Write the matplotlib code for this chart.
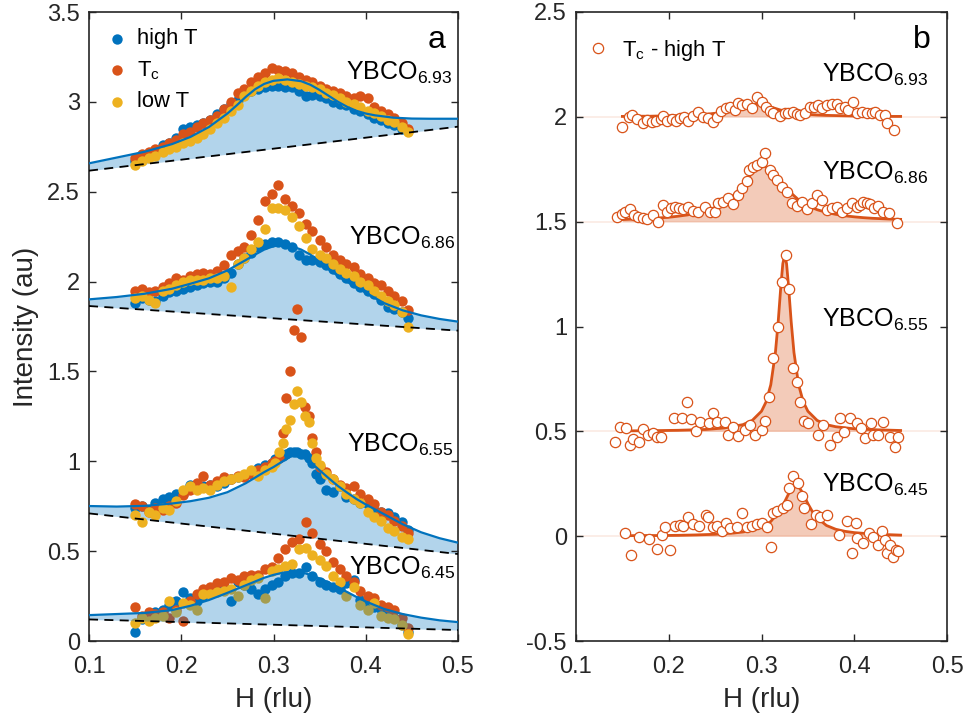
import numpy as np
import matplotlib
matplotlib.use('Agg')
import matplotlib.pyplot as plt

plt.rcParams['font.family'] = ['Liberation Sans', 'DejaVu Sans']
plt.rcParams['mathtext.fontset'] = 'custom'
plt.rcParams['mathtext.rm'] = 'Liberation Sans'
plt.rcParams['mathtext.it'] = 'Liberation Sans:italic'
plt.rcParams['mathtext.bf'] = 'Liberation Sans:bold'

BLUE = '#0072BD'
ORANGE = '#D95319'
YELLOW = '#EDB120'
AXC = '#262626'

# ---------------- panel a data ----------------
H_A = [0.150, 0.157, 0.165, 0.172, 0.180, 0.187, 0.194, 0.202, 0.209, 0.217,
       0.224, 0.231, 0.239, 0.246, 0.254, 0.261, 0.268, 0.276, 0.283, 0.291,
       0.298, 0.305, 0.313, 0.320, 0.328, 0.335, 0.342, 0.350, 0.357, 0.365,
       0.372, 0.379, 0.387, 0.394, 0.402, 0.409, 0.416, 0.424, 0.431, 0.439, 0.446]
H_A655 = [0.150, 0.157, 0.165, 0.172, 0.180, 0.187, 0.194, 0.202, 0.209, 0.217,
          0.224, 0.231, 0.239, 0.246, 0.254, 0.261, 0.268, 0.276, 0.283, 0.291,
          0.298, 0.302, 0.306, 0.310, 0.314, 0.318, 0.322, 0.326, 0.330, 0.334,
          0.338, 0.342, 0.346, 0.350, 0.357, 0.365, 0.372, 0.379, 0.387, 0.394,
          0.402, 0.409, 0.416, 0.424, 0.431, 0.439, 0.446]

A693_HIGH = [2.67, 2.69, 2.71, 2.73, 2.76, 2.77, 2.80, 2.85, 2.86, 2.87,
             2.88, 2.90, 2.93, 2.96, 2.99, 3.01, 3.04, 3.06, 3.07, 3.08,
             3.09, 3.09, 3.08, 3.08, 3.06, 3.03, 3.04, 3.03, 3.02, 3.00,
             2.99, 2.98, 2.96, 2.95, 2.93, 2.91, 2.90, 2.88, 2.87, 2.85, 2.84]
A693_TC = [2.69, 2.71, 2.72, 2.74, 2.75, 2.77, 2.79, 2.82, 2.83, 2.86,
           2.88, 2.90, 2.92, 2.96, 3.00, 3.05, 3.07, 3.11, 3.14, 3.16,
           3.19, 3.18, 3.17, 3.16, 3.14, 3.12, 3.11, 3.09, 3.07, 3.06,
           3.05, 3.03, 3.02, 3.03, 3.02, 2.97, 2.95, 2.93, 2.91, 2.88, 2.85]
A693_LOW = [2.65, 2.67, 2.69, 2.70, 2.72, 2.74, 2.75, 2.77, 2.78, 2.80,
            2.82, 2.85, 2.88, 2.91, 2.95, 2.98, 3.03, 3.06, 3.09, 3.11,
            3.12, 3.13, 3.12, 3.11, 3.10, 3.09, 3.08, 3.07, 3.05, 3.04,
            3.02, 3.00, 2.99, 2.97, 2.95, 2.94, 2.92, 2.90, 2.89, 2.86, 2.83]

A686_HIGH = [1.88, 1.91, 1.90, 1.89, 1.92, 1.94, 1.95, 1.96, 1.97, 1.98,
             1.99, 2.00, 2.00, 2.02, 2.05, 2.10, 2.13, 2.16, 2.19, 2.21,
             2.22, 2.22, 2.21, 2.19, 2.15, 2.12, 2.12, 2.11, 2.09, 2.07,
             2.04, 2.02, 1.99, 1.97, 1.95, 1.93, 1.90, 1.86, 1.85, 1.83, 1.80]
A686_TC = [1.95, 1.96, 1.94, 1.95, 1.97, 1.99, 2.02, 2.01, 2.03, 2.04,
           2.05, 2.04, 2.06, 2.09, 2.15, 2.17, 2.19, 2.26, 2.34, 2.45,
           2.49, 2.54, 2.46, 2.42, 2.38, 2.32, 2.28, 2.23, 2.19, 2.15,
           2.12, 2.10, 2.08, 2.04, 2.02, 1.99, 1.98, 1.95, 1.92, 1.89, 1.84]
A686_LOW = [1.91, 1.92, 1.90, 1.88, 1.95, 1.96, 1.98, 2.00, 2.01, 2.01,
            2.01, 2.02, 2.02, 2.03, 1.97, 2.10, 2.13, 2.18, 2.22, 2.29,
            2.41, 2.41, 2.40, 2.36, 2.31, 2.24, 2.18, 2.15, 2.13, 2.10,
            2.07, 2.05, 2.03, 2.00, 1.98, 1.95, 1.92, 1.89, 1.87, 1.83, 1.75]

A655_HIGH = [0.74, 0.75, 0.73, 0.77, 0.79, 0.80, 0.82, 0.82, 0.87, 0.87,
             0.86, 0.87, 0.86, 0.88, 0.90, 0.91, 0.92, 0.94, 0.96, 0.98,
             0.99, 1.01, 1.02, 1.03, 1.04, 1.05, 1.05, 1.05, 1.04, 1.04,
             1.02, 0.99, 0.93, 0.90, 0.84, 0.83, 0.86, 0.80, 0.79, 0.77,
             0.76, 0.73, 0.72, 0.71, 0.69, 0.66, 0.62]
A655_TC = [0.76, 0.75, 0.72, 0.74, 0.73, 0.75, 0.77, 0.81, 0.84, 0.88,
           0.92, 0.87, 0.89, 0.91, 0.90, 0.92, 0.91, 0.93, 0.95, 0.97,
           0.99, 1.00, 1.02, 1.16, 1.35, 1.50, 1.73, 1.85, 1.69, 1.30,
           1.25, 1.13, 1.05, 0.97, 0.94, 0.90, 0.87, 0.85, 0.86, 0.82,
           0.79, 0.76, 0.72, 0.70, 0.67, 0.64, 0.60]
A655_LOW = [0.70, 0.66, 0.72, 0.70, 0.74, 0.73, 0.78, 0.84, 0.86, 0.84,
            0.85, 0.84, 0.87, 0.89, 0.90, 0.91, 0.93, 0.95, 0.92, 0.95,
            0.97, 0.99, 1.05, 1.10, 1.18, 1.23, 1.32, 1.39, 1.33, 1.25,
            1.22, 1.10, 1.02, 0.98, 0.93, 0.90, 0.86, 0.82, 0.79, 0.77,
            0.72, 0.69, 0.67, 0.63, 0.61, 0.58, 0.57]

A645_HIGH = [0.05, 0.12, 0.13, 0.16, 0.17, 0.20, 0.22, 0.27, 0.24, 0.22,
             0.25, 0.27, 0.28, 0.30, 0.22, 0.33, 0.31, 0.29, 0.26, 0.29,
             0.31, 0.33, 0.36, 0.38, 0.38, 0.41, 0.36, 0.33, 0.31, 0.30,
             0.29, 0.32, 0.34, 0.23, 0.21, 0.19, 0.18, 0.15, 0.13, 0.09, 0.05]
A645_TC = [0.19, 0.14, 0.16, 0.15, 0.16, 0.13, 0.17, 0.11, 0.22, 0.26,
           0.29, 0.30, 0.32, 0.33, 0.35, 0.34, 0.36, 0.37, 0.37, 0.40,
           0.41, 0.46, 0.51, 0.55, 0.57, 0.66, 0.60, 0.54, 0.50, 0.44,
           0.40, 0.36, 0.33, 0.28, 0.25, 0.24, 0.20, 0.19, 0.17, 0.13, 0.07]
A645_LOW = [0.10, 0.13, 0.11, 0.13, 0.14, 0.22, 0.16, 0.21, 0.20, 0.17,
            0.26, 0.26, 0.27, 0.28, 0.29, 0.25, 0.31, 0.34, 0.35, 0.24,
            0.39, 0.40, 0.42, 0.43, 0.51, 0.52, 0.48, 0.45, 0.42, 0.36,
            0.33, 0.25, 0.30, 0.20, 0.17, 0.21, 0.14, 0.13, 0.12, 0.09, 0.04]

# fitted curves (panel a)
FIT_A693_H = [0.10, 0.13, 0.16, 0.19, 0.21, 0.23, 0.25, 0.26, 0.27, 0.28, 0.29, 0.30, 0.315,
              0.33, 0.34, 0.35, 0.36, 0.37, 0.38, 0.39, 0.40, 0.41, 0.43, 0.45, 0.47, 0.50]
FIT_A693_Y = [2.658, 2.690, 2.722, 2.765, 2.805, 2.860, 2.935, 2.980, 3.028, 3.070, 3.100, 3.117, 3.125,
              3.115, 3.095, 3.066, 3.033, 3.000, 2.972, 2.950, 2.935, 2.925, 2.912, 2.907, 2.906, 2.906]
FIT_A686_H = [0.10, 0.13, 0.16, 0.19, 0.21, 0.23, 0.25, 0.27, 0.28, 0.29, 0.30, 0.31, 0.32,
              0.33, 0.34, 0.35, 0.36, 0.37, 0.38, 0.39, 0.40, 0.42, 0.44, 0.46, 0.48, 0.50]
FIT_A686_Y = [1.901, 1.914, 1.932, 1.960, 1.988, 2.018, 2.062, 2.120, 2.150, 2.178, 2.197, 2.203, 2.196,
              2.178, 2.150, 2.108, 2.068, 2.032, 1.998, 1.968, 1.938, 1.880, 1.840, 1.812, 1.792, 1.777]
FIT_A655_H = [0.10, 0.13, 0.16, 0.19, 0.21, 0.23, 0.25, 0.27, 0.29, 0.30, 0.31, 0.315, 0.32, 0.325,
              0.33, 0.335, 0.34, 0.35, 0.36, 0.37, 0.38, 0.39, 0.40, 0.42, 0.44, 0.46, 0.48, 0.50]
FIT_A655_Y = [0.751, 0.748, 0.752, 0.765, 0.778, 0.797, 0.828, 0.878, 0.940, 0.968, 1.000, 1.018, 1.032, 1.040,
              1.032, 1.015, 0.995, 0.950, 0.905, 0.862, 0.825, 0.790, 0.760, 0.705, 0.650, 0.605, 0.572, 0.547]
FIT_A645_H = [0.10, 0.13, 0.16, 0.19, 0.21, 0.23, 0.25, 0.27, 0.29, 0.30, 0.31, 0.32, 0.33,
              0.34, 0.35, 0.36, 0.37, 0.38, 0.39, 0.40, 0.42, 0.44, 0.46, 0.48, 0.50]
FIT_A645_Y = [0.144, 0.150, 0.156, 0.172, 0.196, 0.228, 0.268, 0.310, 0.352, 0.368, 0.380, 0.386, 0.383,
              0.368, 0.348, 0.325, 0.300, 0.272, 0.245, 0.220, 0.178, 0.150, 0.130, 0.115, 0.105]

# linear backgrounds (dashed), values at H = 0.1 and 0.5
BASE_H = [0.1, 0.5]
BASE_A693 = [2.617, 2.862]
BASE_A686 = [1.864, 1.727]
BASE_A655 = [0.710, 0.484]
BASE_A645 = [0.120, 0.061]

# ---------------- panel b data (Tc - high T) ----------------
B693_H = [0.1493, 0.1575, 0.1604, 0.1654, 0.1719, 0.1762, 0.1816, 0.1863, 0.1913, 0.1942,
          0.1978, 0.2032, 0.2078, 0.2122, 0.2165, 0.2211, 0.2265, 0.2319, 0.2373, 0.2427,
          0.2481, 0.2524, 0.2560, 0.2618, 0.2661, 0.2715, 0.2751, 0.2786, 0.2840, 0.2894,
          0.2948, 0.3002, 0.3049, 0.3092, 0.3128, 0.3200, 0.3254, 0.3290, 0.3343, 0.3379,
          0.3415, 0.3469, 0.3523, 0.3566, 0.3613, 0.3649, 0.3703, 0.3757, 0.3811, 0.3847,
          0.3901, 0.3937, 0.3991, 0.4026, 0.4080, 0.4134, 0.4188, 0.4224, 0.4278, 0.4332,
          0.4350, 0.4429]
B693_Y = [1.950, 2.001, 2.010, 1.988, 1.969, 1.985, 1.977, 1.980, 1.990, 2.004,
          1.982, 1.988, 1.982, 1.993, 1.998, 1.982, 2.004, 2.023, 2.001, 1.993,
          1.977, 2.001, 2.029, 2.042, 2.048, 2.033, 2.064, 2.056, 2.061, 2.044,
          2.093, 2.072, 2.045, 2.029, 2.017, 2.006, 2.020, 2.017, 2.022, 2.014,
          2.010, 2.017, 2.045, 2.048, 2.056, 2.041, 2.056, 2.061, 2.061, 2.041,
          2.048, 2.033, 2.072, 2.017, 2.025, 2.017, 2.017, 2.025, 2.009, 2.009,
          1.969, 1.937]
B686_H = [0.1439, 0.1493, 0.1529, 0.1582, 0.1626, 0.1672, 0.1719, 0.1762, 0.1827, 0.1888,
          0.1935, 0.1978, 0.2021, 0.2068, 0.2114, 0.2158, 0.2211, 0.2265, 0.2319, 0.2391,
          0.2445, 0.2499, 0.2535, 0.2589, 0.2643, 0.2697, 0.2751, 0.2786, 0.2840, 0.2869,
          0.2912, 0.2955, 0.3002, 0.3038, 0.3092, 0.3128, 0.3164, 0.3218, 0.3272, 0.3326,
          0.3379, 0.3433, 0.3487, 0.3541, 0.3602, 0.3649, 0.3703, 0.3757, 0.3811, 0.3865,
          0.3919, 0.3973, 0.4026, 0.4062, 0.4098, 0.4134, 0.4170, 0.4213, 0.4260, 0.4314,
          0.4379, 0.4465]
B686_Y = [1.524, 1.537, 1.548, 1.559, 1.532, 1.521, 1.516, 1.511, 1.532, 1.500,
          1.580, 1.548, 1.564, 1.572, 1.564, 1.559, 1.568, 1.553, 1.548, 1.572,
          1.548, 1.548, 1.588, 1.596, 1.611, 1.584, 1.627, 1.659, 1.696, 1.746,
          1.762, 1.770, 1.786, 1.829, 1.746, 1.723, 1.699, 1.667, 1.643, 1.591,
          1.575, 1.596, 1.559, 1.588, 1.627, 1.603, 1.556, 1.564, 1.568, 1.548,
          1.564, 1.588, 1.572, 1.580, 1.596, 1.588, 1.584, 1.564, 1.575, 1.548,
          1.540, 1.492]
B655_H = [0.1421, 0.1475, 0.1539, 0.1582, 0.1618, 0.1683, 0.1719, 0.1780, 0.1827, 0.1870,
          0.1917, 0.2057, 0.2140, 0.2201, 0.2237, 0.2294, 0.2337, 0.2438, 0.2474, 0.2517,
          0.2607, 0.2643, 0.2697, 0.2751, 0.2822, 0.2876, 0.2930, 0.3002, 0.3038, 0.3085,
          0.3121, 0.3175, 0.3218, 0.3264, 0.3300, 0.3343, 0.3387, 0.3415, 0.3459, 0.3505,
          0.3613, 0.3667, 0.3739, 0.3811, 0.3847, 0.3890, 0.3955, 0.4026, 0.4070, 0.4116,
          0.4177, 0.4206, 0.4260, 0.4314, 0.4386, 0.4440, 0.4476]
B655_Y = [0.451, 0.519, 0.515, 0.435, 0.462, 0.451, 0.510, 0.483, 0.494, 0.475,
          0.475, 0.565, 0.565, 0.639, 0.557, 0.503, 0.546, 0.542, 0.586, 0.546,
          0.546, 0.483, 0.519, 0.478, 0.507, 0.530, 0.483, 0.507, 0.551, 0.666,
          0.848, 0.996, 1.214, 1.341, 1.177, 0.801, 0.737, 0.642, 0.551, 0.542,
          0.483, 0.530, 0.435, 0.475, 0.565, 0.499, 0.562, 0.542, 0.515, 0.467,
          0.542, 0.483, 0.483, 0.546, 0.475, 0.427, 0.475]
B645_H = [0.1529, 0.1590, 0.1683, 0.1791, 0.1877, 0.1924, 0.1960, 0.2014, 0.2068, 0.2122,
          0.2158, 0.2211, 0.2265, 0.2330, 0.2402, 0.2427, 0.2481, 0.2517, 0.2571, 0.2618,
          0.2661, 0.2733, 0.2786, 0.2840, 0.2894, 0.2948, 0.3002, 0.3056, 0.3099, 0.3121,
          0.3171, 0.3229, 0.3272, 0.3300, 0.3336, 0.3390, 0.3433, 0.3459, 0.3530, 0.3588,
          0.3631, 0.3703, 0.3840, 0.3926, 0.3973, 0.4019, 0.4034, 0.4098, 0.4163, 0.4206,
          0.4253, 0.4296, 0.4332, 0.4357, 0.4386, 0.4415, 0.4450, 0.4476]
B645_Y = [0.017, -0.089, -0.002, -0.015, -0.062, 0.006, 0.043, -0.065, 0.049, 0.054,
          0.049, 0.090, 0.059, 0.049, 0.101, 0.093, 0.043, 0.049, 0.027, 0.065,
          0.038, 0.043, 0.112, 0.043, 0.049, 0.059, 0.065, 0.046, -0.050, 0.109,
          0.122, 0.133, 0.149, 0.229, 0.287, 0.252, 0.192, 0.133, 0.059, 0.101,
          0.093, 0.101, 0.006, 0.074, -0.078, 0.065, -0.010, -0.034, 0.014, -0.005,
          -0.042, 0.027, -0.018, -0.081, -0.042, -0.100, -0.065, -0.073]

FIT_B693_H = [0.15, 0.16, 0.17, 0.18, 0.19, 0.20, 0.21, 0.22, 0.23, 0.24, 0.25, 0.26, 0.27, 0.28,
              0.29, 0.295, 0.30, 0.31, 0.32, 0.33, 0.34, 0.35, 0.36, 0.37, 0.38, 0.39, 0.40, 0.41,
              0.42, 0.43, 0.44, 0.45]
FIT_B693_Y = [2.002, 2.002, 2.003, 2.003, 2.004, 2.005, 2.006, 2.007, 2.009, 2.012, 2.017, 2.023, 2.033, 2.047,
              2.058, 2.060, 2.058, 2.047, 2.033, 2.023, 2.017, 2.012, 2.009, 2.007, 2.006, 2.005, 2.004, 2.003,
              2.003, 2.002, 2.002, 2.002]
FIT_B686_H = [0.15, 0.16, 0.17, 0.18, 0.19, 0.20, 0.21, 0.22, 0.23, 0.24, 0.25, 0.26, 0.27, 0.28,
              0.29, 0.30, 0.31, 0.32, 0.33, 0.34, 0.35, 0.36, 0.37, 0.38, 0.39, 0.40, 0.41,
              0.42, 0.43, 0.44, 0.45]
FIT_B686_Y = [1.510, 1.512, 1.513, 1.515, 1.518, 1.521, 1.526, 1.532, 1.540, 1.551, 1.568, 1.591, 1.626, 1.676,
              1.733, 1.769, 1.752, 1.699, 1.644, 1.604, 1.576, 1.557, 1.544, 1.535, 1.528, 1.523, 1.519,
              1.516, 1.514, 1.512, 1.511]
FIT_B655_H = [0.15, 0.18, 0.21, 0.24, 0.26, 0.28, 0.29, 0.30, 0.305, 0.31, 0.315, 0.318, 0.321, 0.323,
              0.325, 0.327, 0.329, 0.332, 0.335, 0.34, 0.345, 0.35, 0.36, 0.37, 0.38, 0.40, 0.42, 0.45]
FIT_B655_Y = [0.502, 0.503, 0.505, 0.509, 0.516, 0.532, 0.552, 0.596, 0.641, 0.722, 0.876, 1.023, 1.201, 1.300,
              1.340, 1.300, 1.201, 1.023, 0.876, 0.722, 0.641, 0.596, 0.552, 0.532, 0.522, 0.512, 0.508, 0.504]
FIT_B645_H = [0.15, 0.17, 0.19, 0.21, 0.23, 0.25, 0.27, 0.28, 0.29, 0.30, 0.31, 0.32, 0.325, 0.33,
              0.335, 0.337, 0.34, 0.345, 0.35, 0.355, 0.36, 0.37, 0.38, 0.39, 0.40, 0.42, 0.45]
FIT_B645_Y = [0.002, 0.003, 0.003, 0.004, 0.006, 0.009, 0.015, 0.020, 0.028, 0.043, 0.070, 0.123, 0.164, 0.209,
              0.242, 0.245, 0.238, 0.201, 0.155, 0.116, 0.087, 0.051, 0.033, 0.023, 0.017, 0.010, 0.005]
BASE_B = [2.0, 1.5, 0.5, 0.0]

LABELS = ['6.93', '6.86', '6.55', '6.45']

# ---------------- figure ----------------
fig = plt.figure(figsize=(9.68, 7.21), dpi=100)
axA = fig.add_axes([89 / 968, 80 / 721, 369 / 968, 629 / 721])
axB = fig.add_axes([576 / 968, 80 / 721, 371 / 968, 629 / 721])

samplesA = [
    (H_A, A693_HIGH, A693_TC, A693_LOW, FIT_A693_H, FIT_A693_Y, BASE_A693, False),
    (H_A, A686_HIGH, A686_TC, A686_LOW, FIT_A686_H, FIT_A686_Y, BASE_A686, False),
    (H_A655, A655_HIGH, A655_TC, A655_LOW, FIT_A655_H, FIT_A655_Y, BASE_A655, False),
    (H_A, A645_HIGH, A645_TC, A645_LOW, FIT_A645_H, FIT_A645_Y, BASE_A645, True),
]
MS = 56
for i, (h, hi, tc, lo, fh, fy, base, cover) in enumerate(samplesA):
    bl = np.interp(fh, BASE_H, base)
    axA.fill_between(fh, bl, fy, color=BLUE, alpha=0.3, lw=0, zorder=2.6 if cover else 1)
    axA.scatter(h, hi, s=MS, color=BLUE, lw=0, zorder=2.0, label='high T' if i == 0 else None)
    axA.scatter(h, tc, s=MS, color=ORANGE, lw=0, zorder=2.1, label=r'T$_\mathrm{c}$' if i == 0 else None)
    axA.scatter(h, lo, s=MS, color=YELLOW, lw=0, zorder=2.2, label='low T' if i == 0 else None)
    axA.plot(fh, fy, color=BLUE, lw=1.6, zorder=3)
    axA.plot(BASE_H, base, color='black', lw=1.3, ls=(0, (5, 3.5)), zorder=3)

samplesB = [
    (B693_H, B693_Y, FIT_B693_H, FIT_B693_Y, BASE_B[0]),
    (B686_H, B686_Y, FIT_B686_H, FIT_B686_Y, BASE_B[1]),
    (B655_H, B655_Y, FIT_B655_H, FIT_B655_Y, BASE_B[2]),
    (B645_H, B645_Y, FIT_B645_H, FIT_B645_Y, BASE_B[3]),
]
for i, (h, y, fh, fy, base) in enumerate(samplesB):
    axB.axhline(base, color=ORANGE, alpha=0.12, lw=1.2, zorder=0.5)
    axB.fill_between(fh, base, fy, color=ORANGE, alpha=0.3, lw=0, zorder=1)
    axB.plot(fh, fy, color=ORANGE, lw=2.0, zorder=3)
    axB.plot(h, y, 'o', ms=7.4, mfc='white', mec=ORANGE, mew=0.9, ls='none', zorder=4,
             label=r'T$_\mathrm{c}$ - high T' if i == 0 else None)

# sample labels
txtA = [(0.4935, 3.122), (0.4967, 2.203), (0.4946, 1.053), (0.4967, 0.367)]
for (x, y), lab in zip(txtA, LABELS):
    axA.text(x, y, r'YBCO$_{\mathrm{' + lab + '}}$', ha='right', va='baseline', fontsize=18, color='black', zorder=5)
txtB = [(0.4795, 2.166), (0.4795, 1.699), (0.4795, 0.999), (0.4795, 0.2125)]
for (x, y), lab in zip(txtB, LABELS):
    axB.text(x, y, r'YBCO$_{\mathrm{' + lab + '}}$', ha='right', va='baseline', fontsize=18, color='black', zorder=5)

axA.text(0.4772, 3.30, 'a', ha='center', va='baseline', fontsize=23)
axB.text(0.473, 2.328, 'b', ha='center', va='baseline', fontsize=23)

# axes styling
for ax in (axA, axB):
    ax.set_xlim(0.1, 0.5)
    ax.set_xticks([0.1, 0.2, 0.3, 0.4, 0.5])
    ax.set_xticklabels(['0.1', '0.2', '0.3', '0.4', '0.5'])
    ax.tick_params(direction='in', length=5, width=1.0, top=True, right=True,
                   labelsize=17, colors=AXC)
    ax.tick_params(axis='x', pad=11)
    ax.tick_params(axis='y', pad=6.5)
    for sp in ax.spines.values():
        sp.set_linewidth(1.2)
        sp.set_color(AXC)
    ax.set_xlabel('H (rlu)', fontsize=20, color=AXC, labelpad=6)

axA.set_ylim(0, 3.5)
axA.set_yticks([0, 0.5, 1, 1.5, 2, 2.5, 3, 3.5])
axA.set_yticklabels(['0', '0.5', '1', '1.5', '2', '2.5', '3', '3.5'])
axA.set_ylabel('Intensity (au)', fontsize=20, color=AXC, labelpad=6)

axB.set_ylim(-0.5, 2.5)
axB.set_yticks([-0.5, 0, 0.5, 1, 1.5, 2, 2.5])
axB.set_yticklabels(['-0.5', '0', '0.5', '1', '1.5', '2', '2.5'])

axA.legend(loc='upper left', bbox_to_anchor=(0.046, 0.9738), frameon=False, fontsize=15.8,
           handlelength=1.0, handletextpad=0.41, labelspacing=0.44, borderpad=0, borderaxespad=0,
           scatterpoints=1)
axB.legend(loc='upper left', bbox_to_anchor=(0.0296, 0.959), frameon=False, fontsize=15.8,
           handlelength=1.0, handletextpad=0.6, borderpad=0, borderaxespad=0, numpoints=1)

fig.savefig('out.png', dpi=100)
